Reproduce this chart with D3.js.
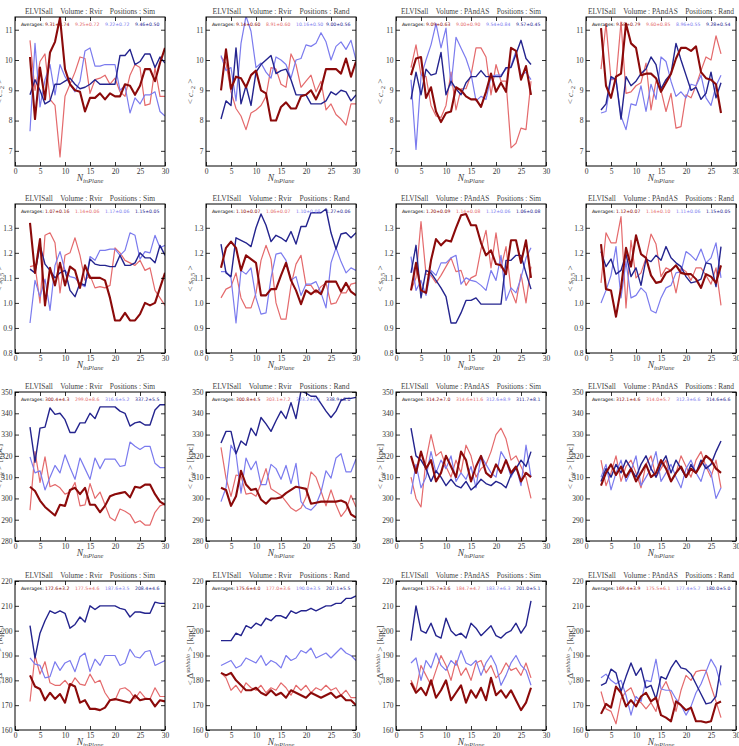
<!DOCTYPE html>
<html><head><meta charset="utf-8">
<script src="https://cdn.jsdelivr.net/npm/d3@7"></script>
<style>body{margin:0;background:#fff} svg{display:block}</style>
</head><body><svg id="c" width="739" height="746"></svg>
<script>
// ---------- DATA ----------
const xFull = d3.range(3, 31);   // Volume Rvir panels
const xShort = d3.range(3, 28);  // Volume PAndAS panels
const volumes = ["Rvir", "Rvir", "PAndAS", "PAndAS"];
const positions = ["Sim", "Rand", "Sim", "Rand"];
const xTicks = [0, 5, 10, 15, 20, 25, 30];
const yTicksC2 = [7, 8, 9, 10, 11];
const yTicksS05 = [0.8, 0.9, 1.0, 1.1, 1.2, 1.3];
const yTicksRrit = [280, 290, 300, 310, 320, 330, 340, 350];
const yTicksDelta = [160, 170, 180, 190, 200, 210, 220];
const yDomC2 = [6.5, 11.42];
const yDomS05 = [0.8, 1.395];
const yDomRrit = [280, 350];
const yDomDelta = [160, 220];

// row 1 : < c_-2 >   (series: dark red, light red, light blue, dark blue)
const c2_RvirSim = [
 [10.1,8.05,9.75,8.7,10.25,10.6,11.4,9.7,9.2,9.0,8.95,8.3,8.75,8.75,8.9,8.7,8.9,8.8,8.8,9.2,9.15,8.85,9.15,9.7,9.7,9.3,9.9,10.4],
 [10.65,9.0,9.95,10.2,8.7,8.5,6.8,8.8,9.2,9.6,10.1,10.05,8.9,9.35,9.4,9.5,9.2,9.4,8.95,8.8,9.5,9.85,9.75,8.5,8.55,9.75,8.8,8.8],
 [7.65,10.55,8.45,9.35,9.85,8.85,9.85,9.45,9.2,8.95,9.3,10.3,10.4,9.8,9.8,9.85,9.85,9.85,9.0,9.15,8.25,8.75,8.55,8.85,8.85,8.95,8.3,8.15],
 [8.85,9.35,9.0,8.55,8.65,9.2,9.2,9.3,9.4,9.2,9.05,9.1,9.2,9.35,9.2,9.2,9.2,9.2,10.15,10.15,10.35,9.85,9.95,10.2,10.2,9.75,10.1,9.9]];
const c2_RvirRand = [
 [9.0,10.35,9.05,9.45,9.4,9.1,9.5,9.65,9.0,8.9,8.0,8.0,8.45,8.6,8.4,8.4,8.8,8.85,9.0,8.7,9.05,9.7,9.7,9.7,9.55,10.05,9.45,9.95],
 [10.1,9.9,8.95,8.4,8.15,7.7,8.25,8.35,8.5,8.8,9.75,9.7,9.2,9.1,10.2,9.85,9.1,9.3,9.5,8.95,9.3,8.35,8.55,8.2,8.05,7.85,8.55,8.55],
 [10.15,9.65,9.75,8.65,10.55,11.45,10.95,9.75,9.9,9.6,9.4,10.1,10.0,9.85,9.4,10.0,10.05,10.5,10.45,10.55,10.9,10.6,10.0,10.45,10.6,10.35,10.65,10.0],
 [8.05,8.65,8.5,10.4,8.55,9.15,8.5,9.6,9.85,10.0,10.15,9.55,9.65,9.7,9.35,8.85,8.85,8.85,8.55,8.55,8.55,8.65,8.95,8.85,9.0,8.95,8.65,8.85]];
const c2_PAndASSim = [
 [9.5,10.05,10.1,8.75,9.1,8.3,7.95,8.25,8.3,9.1,9.0,8.8,8.7,8.7,8.45,8.95,9.55,8.95,9.25,8.95,10.4,10.3,9.35,9.8,8.85],
 [9.75,10.5,9.5,9.45,8.5,8.15,8.1,8.5,9.6,8.35,9.05,9.05,9.5,10.4,10.4,10.1,8.85,9.85,9.3,9.3,7.1,7.25,7.75,7.7,9.3],
 [9.35,7.05,9.45,10.0,10.5,11.2,10.4,11.05,9.15,10.75,10.4,10.05,9.55,8.65,8.8,8.7,9.45,9.5,9.5,9.7,9.8,10.3,9.5,9.6,9.35],
 [8.7,9.6,8.85,9.7,9.5,9.55,10.25,8.85,9.3,9.05,8.85,9.25,9.45,9.45,9.65,9.45,9.45,9.45,9.45,9.75,9.75,10.2,10.65,10.05,9.85]];
const c2_PAndASRand = [
 [11.05,9.15,8.75,9.45,9.55,11.2,10.55,10.4,9.5,9.55,9.55,9.4,8.95,9.25,9.55,10.05,10.4,10.4,10.3,10.45,9.6,9.4,9.35,9.2,8.25],
 [9.7,11.2,9.35,9.35,11.25,8.9,8.95,9.15,9.25,9.9,8.35,9.3,9.0,8.3,8.9,7.75,7.8,8.85,8.75,9.15,9.65,10.1,10.0,10.8,10.2],
 [8.25,8.3,9.4,9.35,8.15,7.7,8.55,8.5,9.15,8.3,9.2,8.7,10.1,9.95,9.3,8.8,8.95,8.75,9.2,9.15,9.5,8.75,8.5,9.15,9.5],
 [8.35,8.55,9.45,9.35,8.05,9.45,9.15,9.3,9.55,9.7,10.1,9.85,9.05,9.35,9.55,10.55,10.0,9.5,9.0,9.1,8.7,8.9,9.6,8.75,9.25]];

// row 2 : < s_0.5 >
const s05_RvirSim = [
 [1.32,1.12,1.255,0.99,1.14,1.07,1.16,1.07,1.145,1.13,1.06,1.15,1.10,1.10,1.10,1.09,1.02,0.93,0.93,0.96,0.93,0.93,0.955,1.0,0.99,1.0,1.06,1.12],
 [1.145,1.15,1.0,1.27,1.28,1.24,1.04,1.19,1.20,1.26,1.19,1.09,1.11,1.06,1.065,1.06,1.07,1.22,1.20,1.17,1.16,1.15,1.17,1.13,1.14,1.05,1.02,0.99],
 [0.92,1.09,1.025,1.095,0.97,1.15,1.205,1.13,1.105,1.10,1.075,1.065,1.185,1.17,1.21,1.21,1.215,1.215,1.19,1.21,1.28,1.27,1.175,1.205,1.20,1.27,1.22,1.23],
 [1.135,1.12,1.23,1.155,1.13,1.10,1.12,1.13,1.05,1.025,1.08,1.07,1.175,1.155,1.15,1.15,1.145,1.145,1.19,1.15,1.15,1.16,1.2,1.18,1.18,1.16,1.23,1.19]];
const s05_RvirRand = [
 [1.14,1.22,1.245,1.22,1.13,1.19,1.175,1.16,1.03,1.03,1.055,1.055,1.11,1.16,1.09,1.05,0.995,1.05,1.035,1.05,1.035,1.085,1.085,1.085,1.045,1.08,1.045,1.03],
 [1.02,1.055,1.065,1.12,1.02,0.98,0.98,1.04,1.17,1.23,1.175,1.0,0.935,0.935,1.07,1.155,1.19,1.07,1.07,1.04,1.065,1.08,0.995,1.0,1.04,1.04,1.075,1.08],
 [1.125,1.125,1.10,0.92,1.13,1.115,1.14,1.02,0.955,0.96,1.10,1.195,1.20,1.17,1.09,1.105,1.03,1.075,1.075,1.085,1.04,0.98,1.16,1.22,1.165,1.12,1.14,1.13],
 [1.235,1.12,1.105,1.26,1.25,1.24,1.225,1.30,1.355,1.31,1.245,1.27,1.26,1.245,1.285,1.235,1.305,1.305,1.36,1.36,1.36,1.375,1.28,1.215,1.275,1.28,1.26,1.28]];
const s05_PAndASSim = [
 [1.05,1.16,1.05,1.04,1.17,1.255,1.23,1.25,1.245,1.30,1.35,1.355,1.31,1.31,1.24,1.19,1.21,1.155,1.15,1.115,1.25,1.25,1.16,1.25,1.10],
 [1.05,1.10,1.325,1.115,1.11,1.08,1.11,1.145,1.18,1.125,1.13,1.07,1.10,1.11,1.215,1.29,1.14,1.28,1.14,1.225,1.05,1.0,1.115,1.00,1.145],
 [1.185,1.05,1.09,1.03,1.13,1.11,1.16,1.16,1.18,1.19,1.075,1.10,1.09,1.085,1.07,1.05,1.13,1.09,1.19,1.01,1.06,1.04,1.10,1.18,1.22],
 [1.12,1.23,1.02,1.13,1.12,1.09,1.06,1.025,0.92,0.92,0.96,1.01,1.01,1.02,0.995,0.995,0.995,0.995,0.995,1.17,1.17,1.19,1.19,1.12,1.055]];
const s05_PAndASRand = [
 [1.235,1.055,1.05,0.945,1.06,1.22,1.145,1.27,1.195,1.18,1.11,1.08,1.085,1.12,1.13,1.15,1.12,1.115,1.115,1.095,1.06,1.115,1.105,1.08,1.15],
 [1.08,1.28,1.24,1.24,1.345,0.98,1.25,1.10,1.12,1.18,1.275,1.235,1.105,1.14,1.13,1.04,1.14,1.125,1.09,1.14,1.14,1.11,1.075,1.14,0.99],
 [1.0,1.05,1.11,1.225,1.02,1.165,1.02,1.03,1.06,1.04,0.97,0.96,1.02,1.06,1.07,1.12,1.125,1.205,1.19,1.17,1.215,1.16,1.18,1.24,1.10],
 [1.205,1.145,1.175,1.115,1.13,1.195,1.105,1.14,1.07,1.175,1.165,1.19,1.17,1.225,1.18,1.16,1.145,1.105,1.08,1.085,1.095,1.16,1.155,1.065,1.225]];

// row 3 : < r_rit > [kpc]
const r_RvirSim = [
 [305.5,303.5,299,296,294,292,297,296.5,304,305,302,305,297,297,293.5,296.5,301,302,302.5,303,300.5,305.5,305,306.5,306.5,302,298.5,297],
 [294.5,322,307.5,319.5,305.5,306.5,305,302,303,307.5,296.5,297,307,300,303,297,291,289.5,295,294,292.5,288.5,289.5,287.5,287.5,293.5,296.5,297.5],
 [319.5,312,313,304,310,315.5,312,320.5,314.5,309,319,314,309,319,314,318.5,318.5,318.5,315,315.5,326.5,324.5,323,324.5,324.5,316.5,314.5,314.5],
 [333.5,317,333,333.5,342.5,339.5,340,337,331,331,335.5,335.5,340,337.5,343,343,343,343,341,340,334,335.5,336,334.5,334.5,341.5,344,344]];
const r_RvirRand = [
 [305,304,296.5,301,313,306.5,304,304.5,299.5,297.5,300,300,300.5,302.5,304,305.5,305,304.5,297.5,298,298.5,298.5,298.5,298.5,299,298,292.5,291],
 [324,309.5,301,311,310.5,302,302.5,301,307,314,304.5,303,301.5,298.5,295.5,294,295.5,300.5,312.5,310,303.5,296.5,304,297,291.5,294.5,301.5,296],
 [298.5,305,325,321,302.5,319,313.5,317.5,306.5,306.5,316,314,309,315.5,307,316.5,298.5,295.5,294.5,297,303,313,309.5,319,321,312.5,312.5,318.5],
 [326,331.5,331.5,321,327,325,333,329.5,338,335,331.5,336.5,341,337.5,345,337.5,350.5,349.5,348,348,344.5,341,338,341,346,347,347,347.5]];
const r_PAndASSim = [
 [320,312,322,314,318,308,312,320,315,310,322,318,308,315,320,312,310,316,312,318,312,315,308,312,310],
 [310,300,296,318,330,320,322,315,310,318,312,325,320,310,314,316,322,330,333,328,318,320,315,310,300],
 [302,316,305,310,322,312,318,314,320,308,312,309,315,305,320,316,312,310,322,318,310,315,306,325,310],
 [333,320,318,314,308,313,310,306,309,306,305,308,304,306,309,307,306,308,307,305,311,314,318,315,322]];
const r_PAndASRand = [
 [306,312,316,311,315,310,314,308,312,316,310,312,318,314,308,312,315,310,314,312,316,320,318,314,312],
 [318,306,312,320,308,315,318,312,305,316,320,310,314,318,308,312,320,315,310,318,322,315,310,318,305],
 [310,316,304,312,318,308,313,320,306,310,314,322,308,312,316,310,305,314,318,312,308,316,312,300,305],
 [308,314,310,316,312,318,314,310,316,320,314,310,316,320,312,318,314,310,316,312,318,314,316,322,327]];

// row 4 : < Delta^subhalo > [kpc]
const d_RvirSim = [
 [182,177.5,176.5,172,175,172.5,174.5,171,178.5,177.5,171,172,168.5,168.5,168,169,172,172.5,172,171.5,171,174,172,172.5,172.5,169.5,172,171.5],
 [171.5,190,182.5,187.5,179,178,178,180,177.5,181,178.5,178,182.5,179,180,175,172,172,176.5,177,175.5,172.5,175.5,173,172.5,177,173.5,173.5],
 [189,186.5,186,181,181.5,187.5,184,187,188,183.5,189.5,191,183.5,188.5,186,190,190,190,186,187,192.5,189.5,189,191.5,192,186,187,188],
 [202,189,199,204,208,207,208,207,201,202.5,205.5,203.5,210,208.5,210,210,210,210,209,208.5,205.5,207.5,207.5,207,207,211.5,211,211]];
const d_RvirRand = [
 [183,182,183,180,178,176,176,177,175,174,176,174,175,173,176,175,174,173,175,174,173,174,175,173,174,172,172,170],
 [183,181,176,178,175,179,177,176,178,175,177,176,179,177,174,178,176,178,175,177,176,178,176,177,174,176,173,173],
 [186,187,188,185,186,189,188,187,190,186,188,187,185,190,188,189,192,191,193,189,190,191,189,191,193,191,190,188],
 [196,196,196,199,198,202,201,203,202,205,204,206,206,205,208,207,208,208,209,208,209,210,210,211,211,213,213,214]];
const d_PAndASSim = [
 [179,175,177,174,180,173,176,180,172,175,178,171,176,173,177,172,181,174,176,173,176,172,168,171,177],
 [180,176,186,182,178,184,190,186,180,188,182,185,180,187,188,183,186,181,183,187,184,185,182,187,181],
 [187,189,180,188,185,191,186,184,188,186,192,187,186,188,182,187,190,186,178,182,187,190,186,184,178],
 [196,210,200,199,203,198,197,205,200,198,199,197,203,201,198,200,202,198,197,199,200,203,199,202,212]];
const d_PAndASRand = [
 [166.5,170.5,169,177.5,175,169.5,172,169.5,173.5,175,171.5,173,166,165,163.5,171.5,170,168,169,163.5,163.5,163,163.5,170.5,171.5],
 [175.5,168.5,167.5,162.5,172.5,175.5,177,172,171,168.5,171,167.5,176,179.5,174.5,167.5,176,182,180,183.5,184,184,177.5,171.5,165],
 [181,182.5,180,178.5,180,174,166,173.5,171.5,180,179.5,188.5,176.5,176,176,172.5,170,166,169.5,175,178.5,183.5,188.5,185,178],
 [178,179,184.5,183,175.5,181.5,187,182,185,177,178,172.5,181.5,180.5,185,188,185,184.5,182.5,178.5,174.5,170.5,171,173.5,186]];

// "Averages:" labels (dark red, light red, light blue, dark blue)
const avgC2 = [["9.31±0.74","9.25±0.72","9.22±0.72","9.46±0.50"],["9.14±0.60","8.91±0.60","10.16±0.50","9.00±0.56"],["9.09±0.63","9.00±0.90","9.54±0.84","9.57±0.45"],["9.58±0.79","9.60±0.85","8.96±0.55","9.28±0.54"]];
const avgS05 = [["1.07±0.16","1.14±0.06","1.17±0.06","1.15±0.05"],["1.10±0.07","1.06±0.07","1.10±0.08","1.27±0.06"],["1.20±0.09","1.14±0.08","1.12±0.06","1.06±0.08"],["1.12±0.07","1.14±0.10","1.11±0.06","1.15±0.05"]];
const avgR = [["300.4±4.3","299.0±8.6","316.6±5.2","337.2±5.5"],["300.8±4.5","303.1±7.2","323.2±8.1","338.9±8.0"],["314.2±7.0","314.6±11.6","312.6±8.9","311.7±8.1"],["312.1±4.6","314.0±5.7","312.3±6.6","314.6±6.6"]];
const avgD = [["172.6±3.2","177.5±4.6","187.6±3.5","208.4±4.6"],["175.6±4.0","177.0±3.6","190.0±3.5","207.1±5.5"],["175.7±3.6","184.7±4.7","183.7±6.3","201.0±5.1"],["169.4±3.9","175.5±6.1","177.4±5.7","180.0±5.0"]];

// ---------- DRAW ----------
const rows = [
  {panels:[c2_RvirSim,c2_RvirRand,c2_PAndASSim,c2_PAndASRand], dom:yDomC2, ticks:yTicksC2, fmt:d3.format("d"), avg:avgC2},
  {panels:[s05_RvirSim,s05_RvirRand,s05_PAndASSim,s05_PAndASRand], dom:yDomS05, ticks:yTicksS05, fmt:d3.format(".1f"), avg:avgS05},
  {panels:[r_RvirSim,r_RvirRand,r_PAndASSim,r_PAndASRand], dom:yDomRrit, ticks:yTicksRrit, fmt:d3.format("d"), avg:avgR},
  {panels:[d_RvirSim,d_RvirRand,d_PAndASSim,d_PAndASRand], dom:yDomDelta, ticks:yTicksDelta, fmt:d3.format("d"), avg:avgD}
];
const colLeft = [15, 206, 396, 586];
const rowTop = [17, 204, 392, 581];
const titleLen = [130, 137, 140, 146];
const W = 150, H = 149;
const colors = ["#8b0a0a", "#e46a6c", "#7b7bee", "#24248e"];
const widths = [2.1, 1.2, 1.2, 1.4];
const serif = "'Liberation Serif', 'DejaVu Serif', serif";

const svg = d3.select("#c");
svg.append("rect").attr("width",739).attr("height",746).attr("fill","#fff");

rows.forEach((row, ri) => {
  row.panels.forEach((series, ci) => {
    const xs = ci < 2 ? xFull : xShort;
    const g = svg.append("g").attr("transform", `translate(${colLeft[ci]},${rowTop[ri]})`);
    const x = d3.scaleLinear().domain([0, 30]).range([0, W]);
    const y = d3.scaleLinear().domain(row.dom).range([H, 0]);
    g.append("defs").append("clipPath").attr("id", `cp${ri}${ci}`)
      .append("rect").attr("width", W).attr("height", H);
    const line = d3.line().x((d, i) => x(xs[i])).y(d => y(d));
    const lg = g.append("g").attr("clip-path", `url(#cp${ri}${ci})`);
    [1, 2, 3, 0].forEach(k => {
      lg.append("path").datum(series[k]).attr("d", line)
        .attr("fill", "none").attr("stroke", colors[k]).attr("stroke-width", widths[k])
        .attr("stroke-linejoin", "round");
    });
    const ax = [
      d3.axisBottom(x).tickValues(xTicks).tickSize(-4).tickPadding(3),
      d3.axisTop(x).tickValues(xTicks).tickSize(-4).tickFormat(""),
      d3.axisLeft(y).tickValues(row.ticks).tickSize(-4).tickPadding(2.5).tickFormat(row.fmt),
      d3.axisRight(y).tickValues(row.ticks).tickSize(-4).tickFormat("")
    ];
    const tr = [`translate(0,${H})`, "translate(0,0)", "translate(0,0)", `translate(${W},0)`];
    ax.forEach((a, i) => {
      const ag = g.append("g").attr("transform", tr[i]).call(a);
      ag.select(".domain").remove();
      ag.selectAll("line").attr("stroke", "#000").attr("stroke-width", 0.8);
      ag.selectAll("text").attr("font-family", serif).attr("font-size", 7.5).attr("fill", "#333");
    });
    g.append("rect").attr("width", W).attr("height", H).attr("fill", "none")
      .attr("stroke", "#000").attr("stroke-width", 1);
    // title
    g.append("text").attr("x", W / 2).attr("y", -3).attr("text-anchor", "middle")
      .attr("font-family", serif).attr("font-size", 9).attr("fill", "#444")
      .attr("textLength", titleLen[ci]).attr("lengthAdjust", "spacingAndGlyphs")
      .text(`ELVISall\u2003Volume : ${volumes[ci]}\u2003Positions : ${positions[ci]}`);
    // averages
    const at = g.append("g").attr("font-family", "'DejaVu Sans', sans-serif").attr("font-size", 4.6);
    at.append("text").attr("x", 6).attr("y", 9).attr("fill", "#000").text("Averages:");
    row.avg[ci].forEach((s, k) => {
      at.append("text").attr("x", 30 + 30 * k).attr("y", 9).attr("fill", colors[k]).text(s);
    });
    // x label
    const xl = g.append("text").attr("x", W / 2).attr("y", H + 15).attr("text-anchor", "middle")
      .attr("font-family", serif).attr("font-size", 9.5).attr("fill", "#444");
    xl.append("tspan").attr("font-style", "italic").text("N");
    xl.append("tspan").attr("font-size", 6.5).attr("dy", 2).attr("font-style", "italic").text("inPlane");
    // y label
    const yl = g.append("text").attr("transform", `translate(-13,${H / 2}) rotate(-90)`)
      .attr("text-anchor", "middle").attr("font-family", serif).attr("font-size", 9).attr("fill", "#444");
    if (ri === 0) {
      yl.append("tspan").text("< ");
      yl.append("tspan").attr("font-style", "italic").text("c");
      yl.append("tspan").attr("font-size", 6.5).attr("dy", 2).text("−2");
      yl.append("tspan").attr("dy", -2).text(" >");
    } else if (ri === 1) {
      yl.append("tspan").text("< ");
      yl.append("tspan").attr("font-style", "italic").text("s");
      yl.append("tspan").attr("font-size", 6.5).attr("dy", 2).text("0.5");
      yl.append("tspan").attr("dy", -2).text(" >");
    } else if (ri === 2) {
      yl.append("tspan").text("< ");
      yl.append("tspan").attr("font-style", "italic").text("r");
      yl.append("tspan").attr("font-size", 6.5).attr("dy", 2).attr("font-style", "italic").text("rit");
      yl.append("tspan").attr("dy", -2).text(" > [kpc]");
    } else {
      yl.append("tspan").text("< Δ");
      yl.append("tspan").attr("font-size", 6).attr("dy", -3).attr("font-style", "italic").text("subhalo");
      yl.append("tspan").attr("dy", 3).text(" > [kpc]");
    }
  });
});
</script>
</body></html>
